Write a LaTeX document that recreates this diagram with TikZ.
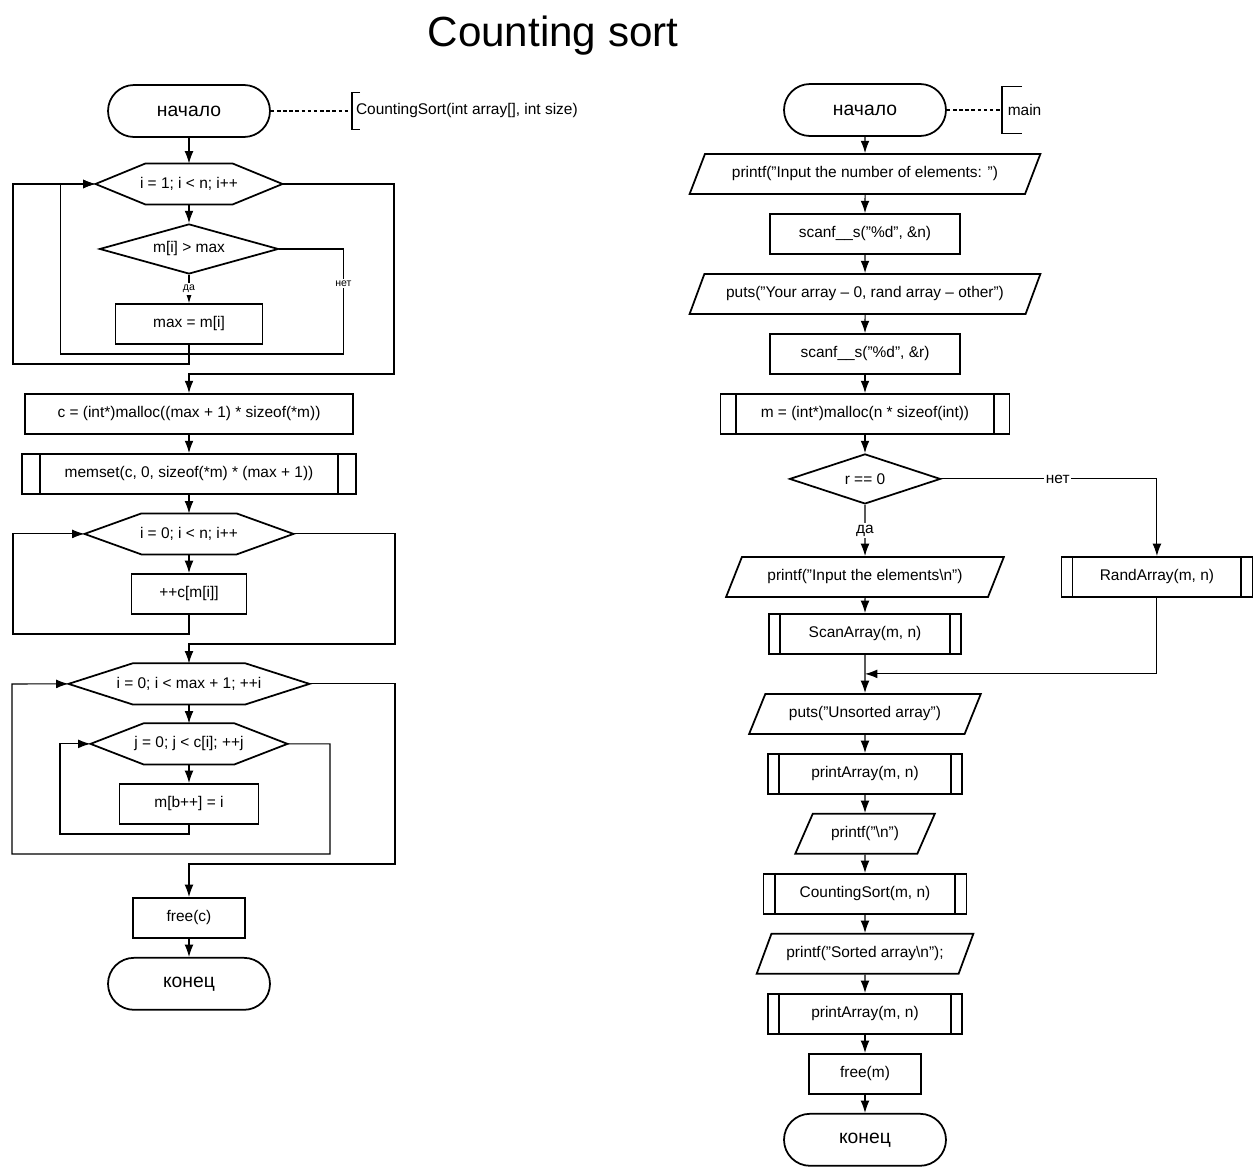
\documentclass[tikz,border=0pt]{standalone}
\usepackage{fontspec}
\setmainfont{Liberation Sans}
\usetikzlibrary{shapes,arrows,arrows.meta,calc}
\tikzstyle{line} = [draw, -{Latex[length=7pt, width=5pt]}]
\tikzstyle{frame} = [draw, line width=1pt]
\tikzstyle{block} = [draw, rectangle, text centered, minimum height=0.8cm, line width=1pt]
\tikzstyle{term} = [draw, rectangle, rounded corners=0.52cm, minimum width=3.24cm, minimum height=1.04cm, line width=1pt, font=\fontsize{11}{13}\selectfont]
\tikzstyle{decision} = [draw, diamond, aspect=3.5, text centered, minimum height=1cm, inner sep=0pt, line width=1pt]
\tikzstyle{io} = [draw, trapezium, trapezium left angle=63, trapezium right angle=117, trapezium stretches=true, text centered, minimum height=0.8cm, line width=1pt]
\tikzstyle{loophead} = [rectangle, text centered, minimum height=0.8cm]
\tikzstyle{tag} = [fill=white, inner sep=1pt, font=\fontsize{6}{7}\selectfont]
\tikzstyle{note} = [anchor=west, minimum height=0.72cm, inner xsep=2pt]
\tikzstyle{comment} = [draw, dash pattern=on 2pt off 1.5pt]
\tikzset{subproc/.style={append after command={
    ([xshift=#1]\tikzlastnode.north west) edge[line width=1pt] ([xshift=#1]\tikzlastnode.south west)
    ([xshift=-#1]\tikzlastnode.north east) edge[line width=1pt] ([xshift=-#1]\tikzlastnode.south east)}},
  subproc/.default=0.24cm}
% hexagon round a loop head
\newcommand{\hexframe}[2]{\draw[frame, line join=miter] (#1.west) -- ([xshift=#2]#1.north west)
  -- ([xshift=-#2]#1.north east) -- (#1.east) -- ([xshift=-#2]#1.south east)
  -- ([xshift=#2]#1.south west) -- cycle;}
% bracket of a comment
\newcommand{\bracket}[2]{\draw[frame] ([xshift=#2]#1.north west) -- (#1.north west)
  -- (#1.south west) -- ([xshift=#2]#1.south west);}

\begin{document}
\begin{tikzpicture}[x=0.02cm, y=-0.02cm, line width=0.6pt, font=\fontsize{8.8}{10.5}\selectfont]
    \useasboundingbox (0,0) rectangle (1259,1173);
    \node[font=\fontsize{24}{28}\selectfont] (title) at (553,36) {Counting sort};

    % CountingSort
    \node[term] (start) at (189,111) {начало};
    \node[note] (sig) at (352,111) {CountingSort(int array[], int size)};
    \node[loophead, below of=start, node distance=1.46cm, minimum width=3.72cm] (outer) {i = 1; i < n; i++};
    \node[decision, below of=outer, node distance=1.3cm, minimum width=3.58cm] (bigger) {m[i] > max};
    \node[block, below of=bigger, node distance=1.5cm, minimum width=2.94cm] (newmax) {max = m[i]};
    \node[block, below of=newmax, node distance=1.8cm, minimum width=6.56cm] (allocc) {c = (int*)malloc((max + 1) * sizeof(*m))};
    \node[block, subproc=0.38cm, below of=allocc, node distance=1.2cm, minimum width=6.68cm] (clear) {memset(c, 0, sizeof(*m) * (max + 1))};
    \node[loophead, below of=clear, node distance=1.2cm, minimum width=4.16cm] (count) {i = 0; i < n; i++};
    \node[block, below of=count, node distance=1.2cm, minimum width=2.3cm] (inc) {++c[m[i]]};
    \node[loophead, below of=inc, node distance=1.8cm, minimum width=4.8cm] (values) {i = 0; i < max + 1; ++i};
    \node[loophead, below of=values, node distance=1.2cm, minimum width=3.92cm] (repeat) {j = 0; j < c[i]; ++j};
    \node[block, below of=repeat, node distance=1.2cm, minimum width=2.78cm] (put) {m[b++] = i};
    \node[block, below of=put, node distance=2.28cm, minimum width=2.24cm] (freec) {free(c)};
    \node[term, below of=freec, node distance=1.32cm] (stop) {конец};
    \hexframe{outer}{1cm}
    \hexframe{count}{1.14cm}
    \hexframe{values}{1.28cm}
    \hexframe{repeat}{1.06cm}
    \draw[comment] (start) -- (sig);
    \bracket{sig}{0.16cm}

    \path[line] (start) -- (outer);
    \path[line] (outer) -- (bigger);
    \path[line] (bigger) -- node[tag] {да} (newmax);
    \path[line] (bigger.east) -- ++(64,0) -- node[tag, pos=0.33] {нет} ++(0,105) -| ($(outer.west)+(-35,0)$) -- (outer.west);
    \path[line] (newmax.south) |- (13,364) |- (outer.west);
    \path[line] (outer.east) -| (394,374) -| (allocc);
    \path[line] (allocc) -- (clear);
    \path[line] (clear) -- (count);
    \path[line] (count) -- (inc);
    \path[line] (inc.south) |- (13,634) |- (count.west);
    \path[line] (count.east) -| (395,644) -| (values);
    \path[line] (values) -- (repeat);
    \path[line] (repeat) -- (put);
    \path[line] (put.south) |- (60,834) |- (repeat.west);
    \path[line] (repeat.east) -| (330,854) -| (12,684) -- (values.west);
    \path[line] (values.east) -| (395,864) -| (freec);
    \path[line] (freec) -- (stop);

    % main
    \node[term] (mstart) at (865,110) {начало};
    \node[note, minimum height=0.92cm, inner xsep=3pt] (mname) at (1002,110) {main};
    \node[io, below of=mstart, node distance=1.28cm, minimum width=7.02cm] (asksize) {printf("Input the number of elements: ")};
    \node[block, below of=asksize, node distance=1.2cm, minimum width=3.8cm] (readsize) {scanf\_\_s("\%d", \&n)};
    \node[io, below of=readsize, node distance=1.2cm, minimum width=7.02cm] (askmode) {puts("Your array – 0, rand array – other")};
    \node[block, below of=askmode, node distance=1.2cm, minimum width=3.8cm] (readmode) {scanf\_\_s("\%d", \&r)};
    \node[block, subproc=0.32cm, below of=readmode, node distance=1.2cm, minimum width=5.78cm] (allocm) {m = (int*)malloc(n * sizeof(int))};
    \node[decision, below of=allocm, node distance=1.3cm, minimum width=3.02cm] (manual) {r == 0};
    \node[io, below of=manual, node distance=1.96cm, minimum width=5.56cm] (askelems) {printf("Input the elements\textbackslash n")};
    \node[block, subproc, right of=askelems, node distance=5.84cm, minimum width=3.82cm] (randarr) {RandArray(m, n)};
    \node[block, subproc, below of=askelems, node distance=1.14cm, minimum width=3.84cm] (scanarr) {ScanArray(m, n)};
    \coordinate[below of=scanarr, node distance=0.8cm] (join);
    \node[io, below of=scanarr, node distance=1.6cm, minimum width=4.64cm] (unsorted) {puts("Unsorted array")};
    \node[block, subproc, below of=unsorted, node distance=1.2cm, minimum width=3.88cm] (print1) {printArray(m, n)};
    \node[io, below of=print1, node distance=1.2cm, minimum width=2.8cm] (newline) {printf("\textbackslash n")};
    \node[block, subproc, below of=newline, node distance=1.2cm, minimum width=4.06cm] (sort) {CountingSort(m, n)};
    \node[io, below of=sort, node distance=1.2cm, minimum width=4.34cm] (sorted) {printf("Sorted array\textbackslash n");};
    \node[block, subproc, below of=sorted, node distance=1.2cm, minimum width=3.88cm] (print2) {printArray(m, n)};
    \node[block, below of=print2, node distance=1.2cm, minimum width=2.24cm] (freem) {free(m)};
    \node[term, below of=freem, node distance=1.32cm] (mstop) {конец};
    \draw[comment] (mstart) -- (mname);
    \bracket{mname}{0.4cm}

    \path[line] (mstart) -- (asksize);
    \path[line] (asksize) -- (readsize);
    \path[line] (readsize) -- (askmode);
    \path[line] (askmode) -- (readmode);
    \path[line] (readmode) -- (allocm);
    \path[line] (allocm) -- (manual);
    \path[line] (manual) -- node[tag, font=\fontsize{8.8}{10.5}\selectfont] {да} (askelems);
    \path[line] (manual) -| node[tag, pos=0.27, font=\fontsize{8.8}{10.5}\selectfont] {нет} (randarr);
    \path[line] (askelems) -- (scanarr);
    \path[line] (scanarr) -- (unsorted);
    \path[line] (randarr) |- (join);
    \path[line] (unsorted) -- (print1);
    \path[line] (print1) -- (newline);
    \path[line] (newline) -- (sort);
    \path[line] (sort) -- (sorted);
    \path[line] (sorted) -- (print2);
    \path[line] (print2) -- (freem);
    \path[line] (freem) -- (mstop);
\end{tikzpicture}
\end{document}
